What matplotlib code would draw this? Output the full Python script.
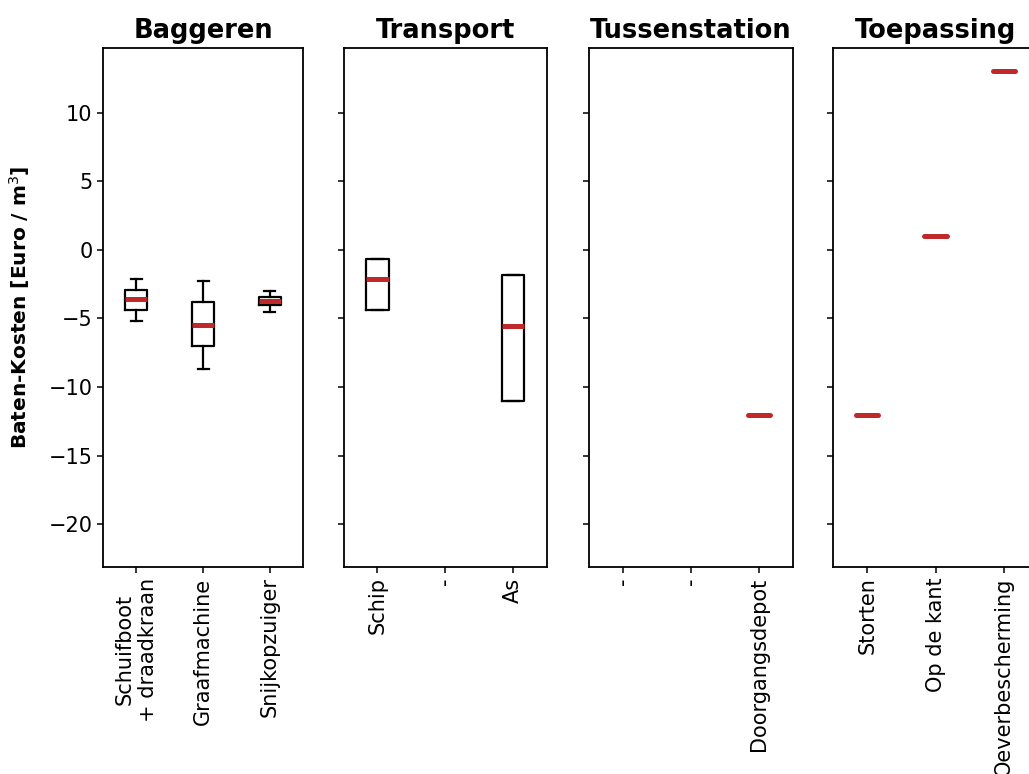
import numpy as np
import matplotlib
matplotlib.use("Agg")
from matplotlib import pyplot as plt

# panels and their categories ("-" = empty slot)
panels = ["Baggeren", "Transport", "Tussenstation", "Toepassing"]
labels = [
    ["Schuifboot\n+ draadkraan", "Graafmachine", "Snijkopzuiger"],
    ["Schip", "-", "As"],
    ["-", "-", "Doorgangsdepot"],
    ["Storten", "Op de kant", "Oeverbescherming"],
]

# box statistics per panel (None = no data)
whislo = [[-5.15, -8.7, -4.5], [-4.35, None, -11.0], [None, None, -12.0], [-12.0, 1.0, 13.0]]
q1 = [[-4.35, -7.0, -4.05], [-4.35, None, -11.0], [None, None, -12.0], [-12.0, 1.0, 13.0]]
med = [[-3.6, -5.5, -3.75], [-2.15, None, -5.55], [None, None, -12.0], [-12.0, 1.0, 13.0]]
q3 = [[-2.9, -3.8, -3.4], [-0.7, None, -1.85], [None, None, -12.0], [-12.0, 1.0, 13.0]]
whishi = [[-2.1, -2.3, -3.0], [-0.7, None, -1.85], [None, None, -12.0], [-12.0, 1.0, 13.0]]

fig = plt.figure(figsize=(10.29, 7.74), dpi=100)

W, H = 1029, 774
lefts = [103, 343.5, 589, 833]
widths = [200, 203.5, 203.7, 205]
top, bottom = 48, 567

red = "#c0282a"
axes = []
for i, name in enumerate(panels):
    ax = fig.add_axes([lefts[i] / W, 1 - bottom / H, widths[i] / W, (bottom - top) / H],
                      sharey=axes[0] if axes else None)
    axes.append(ax)
    stats, pos = [], []
    for j in range(3):
        if med[i][j] is None:
            continue
        stats.append(dict(med=med[i][j], q1=q1[i][j], q3=q3[i][j],
                          whislo=whislo[i][j], whishi=whishi[i][j], fliers=[]))
        pos.append(j + 1)
    bp = ax.bxp(stats, positions=pos, widths=0.33,
                boxprops=dict(color="black", linewidth=1.6),
                whiskerprops=dict(color="black", linewidth=1.6),
                capprops=dict(color="black", linewidth=1.6),
                medianprops=dict(color=red, linewidth=3.6, solid_capstyle="butt"))
    for k, st in enumerate(stats):
        bp["medians"][k].set_zorder(5)
        # single value: only the median is visible
        if st["q1"] == st["q3"]:
            bp["boxes"][k].set_visible(False)
            for ln in bp["whiskers"][2 * k:2 * k + 2] + bp["caps"][2 * k:2 * k + 2]:
                ln.set_visible(False)
            bp["medians"][k].set_solid_capstyle("round")
    ax.set_xlim(0.5, 3.5)
    ax.set_xticks([1, 2, 3])
    ax.set_xticklabels(labels[i], rotation=90, fontsize=15)
    ax.set_title(name, fontsize=18.5, fontweight="bold", pad=7)
    for s in ax.spines.values():
        s.set_linewidth(1.3)
    ax.tick_params(axis="both", labelsize=15, width=1.1, length=4)
    if i > 0:
        ax.tick_params(axis="y", labelleft=False)

axes[0].set_ylim(-23.1, 14.7)
axes[0].set_yticks([10, 5, 0, -5, -10, -15, -20])
axes[0].set_ylabel("Baten-Kosten [Euro / m$^3$]", fontsize=14.5, fontweight="bold", labelpad=12)

fig.savefig("out.png", dpi=100)
